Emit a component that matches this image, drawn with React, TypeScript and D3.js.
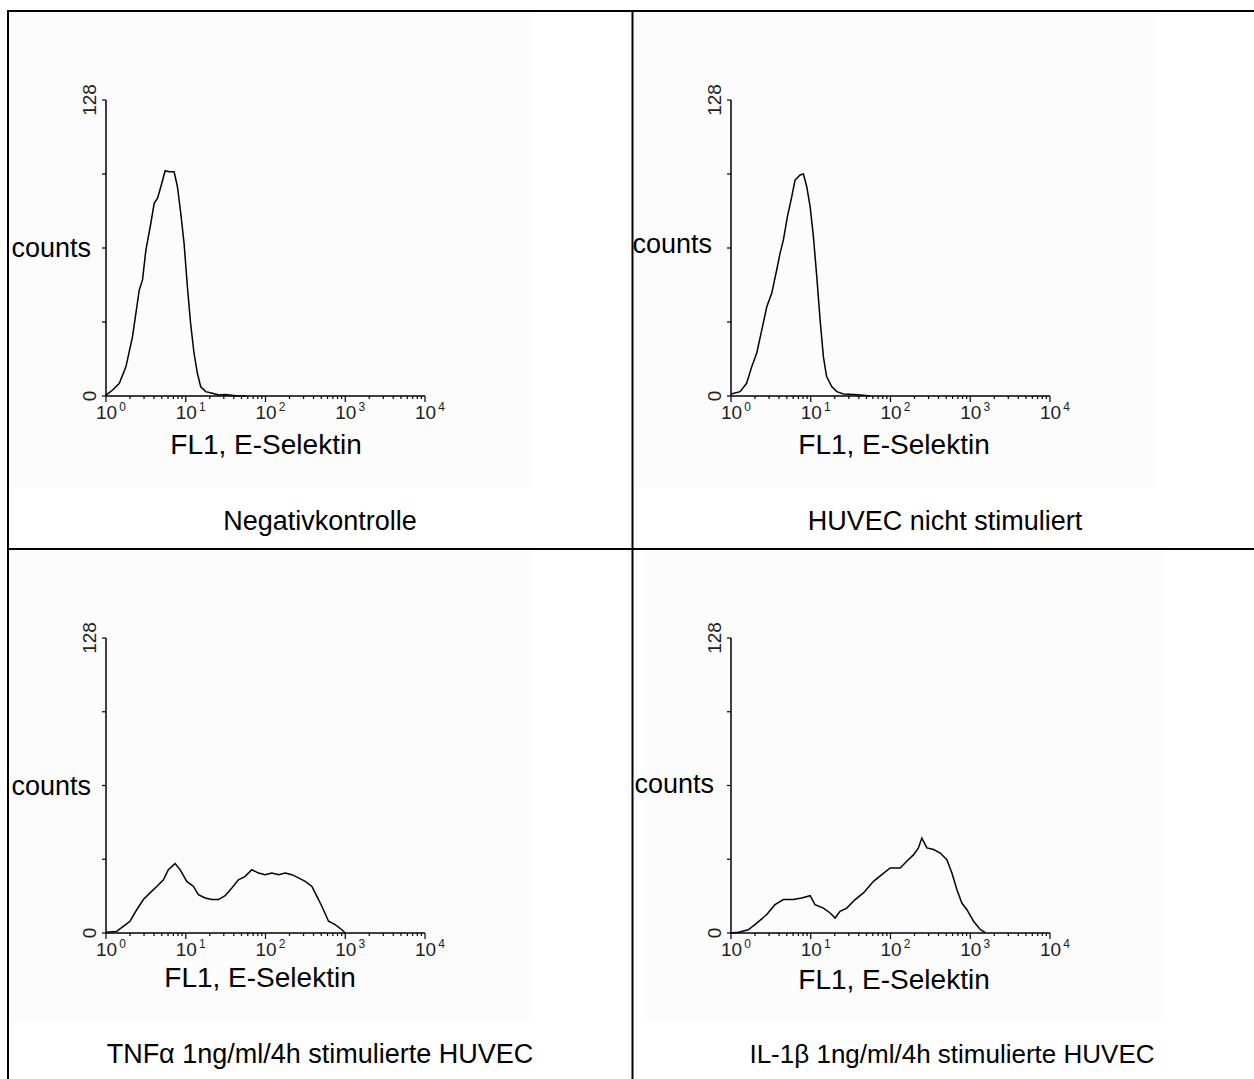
import { useEffect, useRef } from "react";
import * as d3 from "d3";

// FL1 channel values (log scale) and counts
const negFl1 = [1.0, 1.21, 1.47, 1.78, 2.15, 2.61, 2.87, 3.16, 3.65, 4.02, 4.43, 4.87, 5.52, 6.17, 7.14, 7.87, 8.66, 9.53, 10.5, 11.5, 12.7, 14.0, 15.4, 17.8, 21.5, 26.1, 31.6, 42.2, 56.2];
const negCounts = [0.4, 2.6, 5.5, 12.7, 25.7, 45.8, 50.2, 63, 74.7, 83.3, 85.5, 90.5, 97.4, 97, 97, 90.5, 79, 66, 47, 31.4, 18.5, 9.8, 4, 1.9, 1.2, 0.4, 0.6, 0.1, 0];

const huvecFl1 = [1.0, 1.3, 1.57, 1.82, 2.1, 2.43, 2.81, 3.24, 3.74, 4.12, 4.54, 5.09, 5.78, 6.35, 7.35, 8.09, 8.91, 9.82, 10.8, 11.9, 13.1, 14.4, 15.8, 18.4, 21.2, 25.7, 34.4, 45.7, 55.6];
const huvecCounts = [0.9, 1.9, 5.5, 12.7, 18.5, 28.5, 38.6, 44.4, 54.5, 61.7, 67.5, 77.5, 86.2, 93.4, 95.6, 96, 90.5, 81.9, 68.9, 51.6, 32.9, 17, 8.4, 4, 1.9, 0.9, 0.7, 0.3, 0];

const tnfFl1 = [1.0, 1.36, 1.65, 2.0, 2.43, 2.94, 3.56, 4.33, 5.25, 6.05, 7.35, 8.49, 10.3, 12.5, 14.4, 17.5, 21.2, 25.7, 31.2, 37.8, 45.8, 55.6, 67.3, 81.7, 99.1, 120, 146, 177, 214, 259, 315, 382, 441, 509, 617, 748, 908, 1000];
const tnfCounts = [0.3, 0.7, 2.9, 5.1, 10.1, 14.5, 17.4, 20.2, 23.1, 27.5, 30.1, 27.5, 22.4, 20.2, 16.6, 15.2, 14.5, 14.5, 16.2, 19.5, 23.1, 24.6, 27.5, 26, 25.3, 26, 25.3, 26, 25.3, 23.9, 22.4, 20.2, 15.9, 11.6, 5.1, 3.6, 1.4, 0];

const il1Fl1 = [1.0, 1.24, 1.65, 2.1, 2.81, 3.56, 4.54, 6.05, 7.71, 9.82, 11.3, 14.4, 17.5, 20.2, 23.3, 28.3, 36.0, 45.8, 61.2, 77.8, 99.1, 132, 160, 195, 224, 247, 286, 347, 420, 509, 589, 681, 785, 908, 1100, 1340, 1540];
const il1Counts = [0, 0.3, 1.4, 4.3, 8, 12.3, 14.5, 14.5, 15.2, 16.2, 12.3, 10.8, 8.7, 6.5, 9.4, 10.8, 14.5, 17.4, 22.4, 25.3, 28.2, 28.2, 31.1, 34, 36.9, 41.2, 36.9, 36.2, 34.7, 31.8, 26, 18.8, 13, 10.1, 5.1, 1.4, 0.3];

const titles = ["Negativkontrolle", "HUVEC nicht stimuliert", "TNFα 1ng/ml/4h stimulierte HUVEC", "IL-1β 1ng/ml/4h stimulierte HUVEC"];
const decades = [0, 1, 2, 3, 4];
const countTicks = [0, 32, 64, 96, 128];

const FONT = "'Liberation Sans', Arial, sans-serif";

const panels = [
  { fl1: negFl1, counts: negCounts, title: titles[0], x0: 106, top: 100, base: 396, countsX: 91, countsDy: 0, xlabX: 266, xlabY: 454, titleX: 320, titleY: 530, titleSize: 27, bg: [10, 13, 524, 475] },
  { fl1: huvecFl1, counts: huvecCounts, title: titles[1], x0: 731, top: 100, base: 396, countsX: 712, countsDy: -4, xlabX: 894, xlabY: 454, titleX: 945, titleY: 530, titleSize: 27, bg: [634, 13, 524, 475] },
  { fl1: tnfFl1, counts: tnfCounts, title: titles[2], x0: 106, top: 638, base: 933, countsX: 91, countsDy: 0, xlabX: 260, xlabY: 987, titleX: 320, titleY: 1063, titleSize: 27, bg: [10, 551, 524, 470] },
  { fl1: il1Fl1, counts: il1Counts, title: titles[3], x0: 731, top: 638, base: 933, countsX: 714, countsDy: -2, xlabX: 894, xlabY: 989, titleX: 952, titleY: 1063, titleSize: 26, bg: [643, 551, 522, 470] },
];

const App = () => {
  const ref = useRef<SVGSVGElement>(null);

  useEffect(() => {
    const svg = d3.select(ref.current);
    svg.selectAll("*").remove();

    panels.forEach((p) => {
      const x = d3.scaleLog().domain([1, 10000]).range([p.x0, p.x0 + 319]);
      const y = d3.scaleLinear().domain([0, 128]).range([p.base, p.top]);
      const g = svg.append("g");

      g.append("rect")
        .attr("x", p.bg[0]).attr("y", p.bg[1])
        .attr("width", p.bg[2]).attr("height", p.bg[3])
        .attr("fill", "#fcfcfc");

      // y axis
      g.append("line")
        .attr("x1", p.x0).attr("x2", p.x0)
        .attr("y1", y(128)).attr("y2", y(0))
        .attr("stroke", "#000").attr("stroke-width", 1.5);
      countTicks.forEach((t) => {
        g.append("line")
          .attr("x1", p.x0 - 4).attr("x2", p.x0)
          .attr("y1", y(t)).attr("y2", y(t))
          .attr("stroke", "#000").attr("stroke-width", 1.2);
      });
      [0, 128].forEach((t) => {
        g.append("text")
          .attr("transform", `translate(${p.x0 - 10},${y(t)}) rotate(-90)`)
          .attr("text-anchor", "middle")
          .attr("font-family", FONT).attr("font-size", 19)
          .attr("fill", "#222")
          .text(t);
      });
      g.append("text")
        .attr("x", p.countsX).attr("y", y(64) + p.countsDy)
        .attr("dy", "0.35em")
        .attr("text-anchor", "end")
        .attr("font-family", FONT).attr("font-size", 27)
        .text("counts");

      // x axis
      g.append("line")
        .attr("x1", x(1)).attr("x2", x(10000))
        .attr("y1", p.base).attr("y2", p.base)
        .attr("stroke", "#000").attr("stroke-width", 1.5);
      const minor = x.ticks().filter((v) => !decades.includes(Math.round(Math.log10(v) * 1000) / 1000));
      minor.forEach((v) => {
        g.append("line")
          .attr("x1", x(v)).attr("x2", x(v))
          .attr("y1", p.base).attr("y2", p.base + 3)
          .attr("stroke", "#000").attr("stroke-width", 1.2);
      });
      decades.forEach((d) => {
        const xv = x(Math.pow(10, d));
        g.append("line")
          .attr("x1", xv).attr("x2", xv)
          .attr("y1", p.base).attr("y2", p.base + 6)
          .attr("stroke", "#000").attr("stroke-width", 1.2);
        const t = g.append("text")
          .attr("x", xv - 10).attr("y", p.base + 23)
          .attr("font-family", FONT).attr("font-size", 19)
          .attr("fill", "#222");
        t.append("tspan").text("10");
        t.append("tspan").attr("dx", 2).attr("dy", -8).attr("font-size", 12).text(d);
      });

      g.append("text")
        .attr("x", p.xlabX).attr("y", p.xlabY)
        .attr("text-anchor", "middle")
        .attr("font-family", FONT).attr("font-size", 28)
        .text("FL1, E-Selektin");

      g.append("text")
        .attr("x", p.titleX).attr("y", p.titleY)
        .attr("text-anchor", "middle")
        .attr("font-family", FONT).attr("font-size", p.titleSize)
        .text(p.title);

      const line = d3.line<number>()
        .x((_, i) => x(p.fl1[i]))
        .y((c) => y(c));
      g.append("path")
        .attr("d", line(p.counts))
        .attr("fill", "none")
        .attr("stroke", "#000")
        .attr("stroke-width", 1.5);
    });

    // table grid
    const grid = svg.append("g").attr("stroke", "#000").attr("stroke-width", 2);
    grid.append("line").attr("x1", 8).attr("x2", 1254).attr("y1", 11).attr("y2", 11);
    grid.append("line").attr("x1", 8).attr("x2", 8).attr("y1", 10).attr("y2", 1079);
    grid.append("line").attr("x1", 632.5).attr("x2", 632.5).attr("y1", 10).attr("y2", 1079);
    grid.append("line").attr("x1", 8).attr("x2", 1254).attr("y1", 549).attr("y2", 549);
  }, []);

  return (
    <svg
      ref={ref}
      width={1254}
      height={1079}
      style={{ position: "absolute", left: 0, top: 0, background: "#fff" }}
    />
  );
};

export default App;
